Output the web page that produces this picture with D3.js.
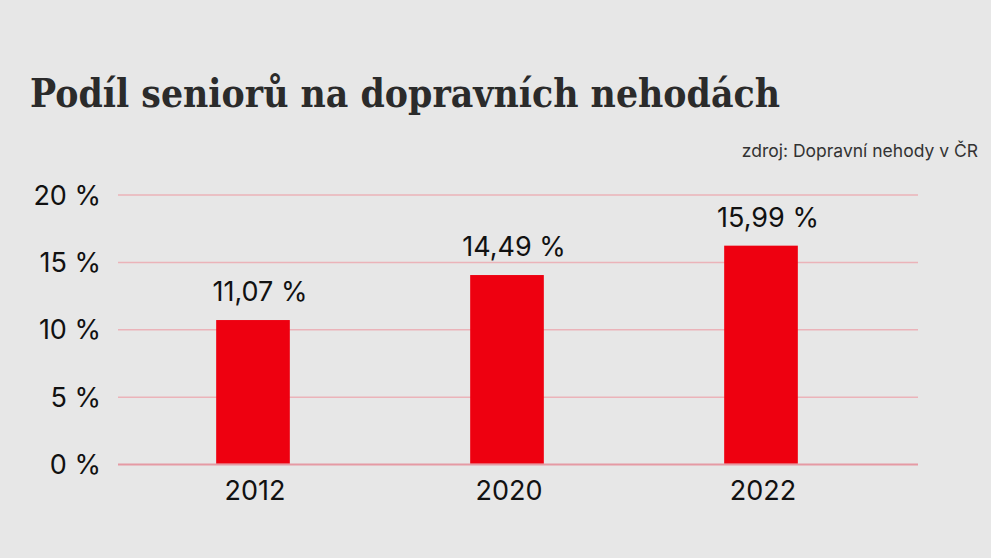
<!DOCTYPE html>
<html>
<head>
<meta charset="utf-8">
<script src="https://cdn.jsdelivr.net/npm/d3@7"></script>
<style>
html,body{margin:0;padding:0;background:#e7e7e7;}
svg{display:block;}
</style>
</head>
<body>
<svg id="chart" width="991" height="558"></svg>
<script>
const categories = ["2012", "2020", "2022"];
const barValues = [10.72, 14.06, 16.24];
const valueLabels = ["11,07 %", "14,49 %", "15,99 %"];
const yTicks = [0, 5, 10, 15, 20];
const yTickLabels = ["0 %", "5 %", "10 %", "15 %", "20 %"];
const titleText = "Podíl seniorů na dopravních nehodách";
const sourceText = "zdroj: Dopravní nehody v ČR";

const svg = d3.select("#chart");
const W = 991, H = 558;
svg.append("rect").attr("width", W).attr("height", H).attr("fill", "#e7e7e7");

const sans = "Inter, 'Noto Sans', sans-serif";

// title (slightly stretched vertically to match the taller original face)
const titleG = svg.append("g").attr("transform", "translate(30,107) scale(1,1.15)");
const title = titleG.append("text")
  .attr("x", 0).attr("y", 0)
  .attr("font-family", "'DejaVu Serif', serif")
  .attr("font-weight", "bold")
  .attr("font-size", 38)
  .attr("fill", "#2b2b2b")
  .text(titleText);
const tw = title.node().getComputedTextLength();
title.attr("font-size", 38 * 750 / tw);

// source
svg.append("text")
  .attr("x", 978).attr("y", 157)
  .attr("text-anchor", "end")
  .attr("font-family", sans)
  .attr("font-size", 17.5)
  .attr("fill", "#333")
  .text(sourceText);

const y = d3.scaleLinear().domain([0, 20]).range([464.5, 195]);
const x = d3.scaleBand().domain(categories).range([126, 888])
  .paddingInner(0.71).paddingOuter(0.355);

// gridlines
svg.append("g").selectAll("line").data(yTicks).join("line")
  .attr("x1", 118).attr("x2", 918)
  .attr("y1", d => y(d)).attr("y2", d => y(d))
  .attr("stroke", d => d === 0 ? "#e59aa4" : "#ebb3b9")
  .attr("stroke-width", d => d === 0 ? 2 : 1.5);

// y tick labels
svg.append("g").selectAll("text").data(yTicks).join("text")
  .attr("x", 101).attr("y", d => y(d) + 9.5)
  .attr("text-anchor", "end")
  .attr("font-family", sans)
  .attr("font-size", 27)
  .attr("fill", "#111")
  .text((d, i) => yTickLabels[i]);

// bars
svg.append("g").selectAll("rect").data(categories).join("rect")
  .attr("x", d => x(d))
  .attr("width", x.bandwidth())
  .attr("y", (d, i) => y(barValues[i]))
  .attr("height", (d, i) => y(0) - y(barValues[i]) - 1)
  .attr("fill", "#ee0010");

// value labels
svg.append("g").selectAll("text").data(categories).join("text")
  .attr("x", d => x(d) + x.bandwidth() / 2 + 7)
  .attr("y", (d, i) => y(barValues[i]) - 19)
  .attr("text-anchor", "middle")
  .attr("font-family", sans)
  .attr("font-size", 27)
  .attr("fill", "#111")
  .text((d, i) => valueLabels[i]);

// x labels
svg.append("g").selectAll("text").data(categories).join("text")
  .attr("x", d => x(d) + x.bandwidth() / 2 + 2)
  .attr("y", 500)
  .attr("text-anchor", "middle")
  .attr("font-family", sans)
  .attr("font-size", 27)
  .attr("fill", "#111")
  .text(d => d);
</script>
</body>
</html>
